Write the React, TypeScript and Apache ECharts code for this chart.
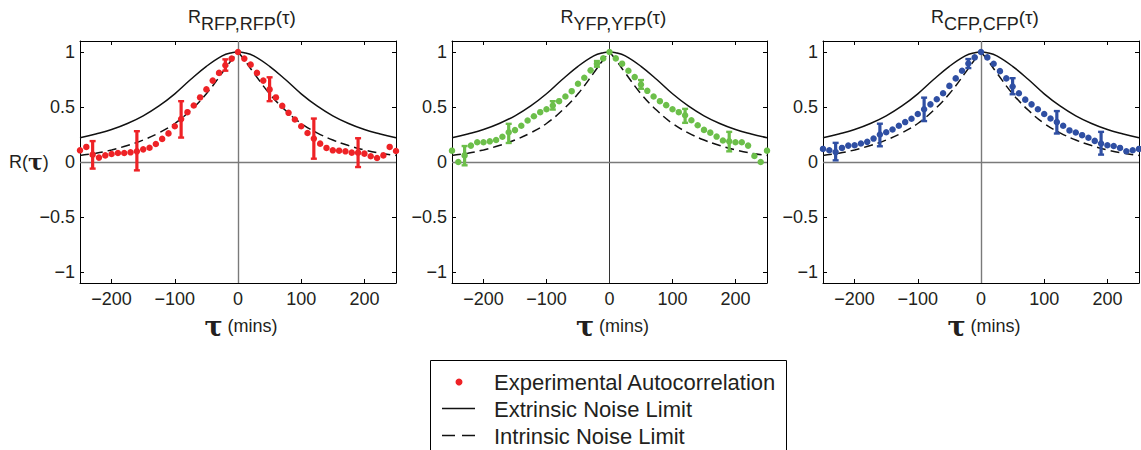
import React, { useEffect, useRef } from 'react';
import * as echarts from 'echarts';

// Lag times (mins)
const tau = [
  -250, -240, -230, -220, -210, -200, -190, -180, -170, -160, -150, -140, -130, -120, -110, -100, -90,
  -80, -70, -60, -50, -40, -30, -20, -10, 0, 10, 20, 30, 40, 50, 60, 70, 80, 90, 100, 110, 120, 130,
  140, 150, 160, 170, 180, 190, 200, 210, 220, 230, 240, 250,
];

const rfp = [
  0.106, 0.137, 0.067, 0.04, 0.06, 0.073, 0.082, 0.082, 0.088, 0.097, 0.115, 0.13, 0.164, 0.21, 0.26,
  0.325, 0.39, 0.453, 0.514, 0.587, 0.66, 0.74, 0.81, 0.88, 0.94, 1.0, 0.94, 0.885, 0.81, 0.74, 0.66,
  0.587, 0.51, 0.447, 0.386, 0.325, 0.264, 0.213, 0.167, 0.128, 0.106, 0.103, 0.097, 0.085, 0.085,
  0.076, 0.052, 0.036, 0.06, 0.137, 0.1,
];
const yfp = [
  0.103, 0.0, 0.06, 0.149, 0.18, 0.18, 0.188, 0.2, 0.23, 0.27, 0.29, 0.33, 0.377, 0.416, 0.453, 0.48,
  0.514, 0.553, 0.596, 0.644, 0.711, 0.766, 0.833, 0.894, 0.942, 1.0, 0.942, 0.894, 0.83, 0.772, 0.705,
  0.647, 0.596, 0.553, 0.517, 0.48, 0.453, 0.425, 0.38, 0.334, 0.292, 0.267, 0.231, 0.195, 0.188, 0.18,
  0.18, 0.149, 0.055, 0.0, 0.103,
];
const cfp = [
  0.119, 0.107, 0.09, 0.128, 0.149, 0.152, 0.168, 0.183, 0.213, 0.25, 0.271, 0.296, 0.33, 0.363, 0.393,
  0.436, 0.479, 0.524, 0.57, 0.625, 0.692, 0.76, 0.83, 0.896, 0.951, 1.0, 0.951, 0.893, 0.826, 0.76,
  0.686, 0.625, 0.567, 0.524, 0.479, 0.436, 0.396, 0.363, 0.33, 0.287, 0.268, 0.244, 0.22, 0.192, 0.168,
  0.152, 0.146, 0.128, 0.098, 0.107, 0.119,
];

// Error bars
const errTau = [-230, -160, -90, -20, 50, 120, 190];
const rfpLow = [-0.06, -0.076, 0.222, 0.83, 0.553, 0.03, -0.046];
const rfpHigh = [0.19, 0.28, 0.553, 0.933, 0.77, 0.395, 0.216];
const yfpLow = [-0.03, 0.173, 0.477, 0.866, 0.666, 0.356, 0.097];
const yfpHigh = [0.145, 0.347, 0.553, 0.918, 0.745, 0.483, 0.274];
const cfpLow = [0.015, 0.143, 0.372, 0.854, 0.616, 0.259, 0.067];
const cfpHigh = [0.174, 0.348, 0.585, 0.936, 0.762, 0.463, 0.274];

// Theoretical limits
const curveTau = [-250, -225, -200, -175, -150, -125, -100, -75, -50, -25, -10, 0, 10, 25, 50, 75, 100, 125, 150, 175, 200, 225, 250];
const extrinsic = [0.22, 0.255, 0.295, 0.35, 0.42, 0.51, 0.62, 0.75, 0.87, 0.965, 0.994, 1.0, 0.994, 0.965, 0.87, 0.75, 0.62, 0.51, 0.42, 0.35, 0.295, 0.255, 0.22];
const intrinsic = [0.06, 0.08, 0.11, 0.15, 0.2, 0.265, 0.35, 0.47, 0.62, 0.81, 0.93, 1.0, 0.93, 0.81, 0.62, 0.47, 0.35, 0.265, 0.2, 0.15, 0.11, 0.08, 0.06];

const xTicks = [-200, -100, 0, 100, 200];
const yTicks = [-1, -0.5, 0, 0.5, 1];

const panelNames = ['RFP,RFP', 'YFP,YFP', 'CFP,CFP'];
const panelColors = ['#ee2226', '#6cbf4a', '#2f4fa3'];
const zeroColors = ['#7a7a7a', '#333333', '#7a7a7a'];
const panelValues = [rfp, yfp, cfp];
const panelLow = [rfpLow, yfpLow, cfpLow];
const panelHigh = [rfpHigh, yfpHigh, cfpHigh];

const legendLabels = ['Experimental Autocorrelation', 'Extrinsic Noise Limit', 'Intrinsic Noise Limit'];

const FONT = '"Liberation Sans", Arial, Helvetica, sans-serif';
const TXT = '#231f20';

const gridLeft = [80, 452, 823];
const gridWidth = [316, 315, 316];
const gridTop = 41;
const gridHeight = 242;

const fmt = (v: number) => String(v).replace('-', '\u2212');

export default function App() {
  const ref = useRef<HTMLDivElement>(null);
  useEffect(() => {
    document.body.style.margin = '0';
    if (!ref.current) return;
    const chart = echarts.init(ref.current, null, { renderer: 'svg' });

    const grids: any[] = [];
    const xAxes: any[] = [];
    const yAxes: any[] = [];
    const series: any[] = [];
    const graphics: any[] = [];

    panelNames.forEach((name, i) => {
      grids.push({ left: gridLeft[i], top: gridTop, width: gridWidth[i], height: gridHeight, containLabel: false });
      const axLine = { show: true, onZero: false, lineStyle: { color: '#000', width: 1 } };
      const baseX = {
        gridIndex: i, type: 'value', min: -250, max: 250,
        axisLine: axLine, splitLine: { show: false },
        axisTick: { show: true, inside: true, length: 4, customValues: xTicks, lineStyle: { color: '#000' } },
      };
      xAxes.push({
        ...baseX, position: 'bottom',
        axisLabel: { show: true, customValues: xTicks, formatter: fmt, fontSize: 18, color: TXT, fontFamily: FONT, margin: 7 },
      });
      xAxes.push({ ...baseX, position: 'top', axisLabel: { show: false } });
      const baseY = {
        gridIndex: i, type: 'value', min: -1.1, max: 1.1,
        axisLine: axLine, splitLine: { show: false },
        axisTick: { show: true, inside: true, length: 4, customValues: yTicks, lineStyle: { color: '#000' } },
      };
      yAxes.push({
        ...baseY, position: 'left',
        axisLabel: { show: true, customValues: yTicks, formatter: fmt, fontSize: 18, color: TXT, fontFamily: FONT, margin: 5 },
      });
      yAxes.push({ ...baseY, position: 'right', axisLabel: { show: false } });

      const xi = i * 2;
      const yi = i * 2;
      const color = panelColors[i];

      series.push({
        type: 'line', xAxisIndex: xi, yAxisIndex: yi, name: legendLabels[1],
        data: curveTau.map((t, k) => [t, extrinsic[k]]),
        smooth: 0.4, showSymbol: false, symbol: 'none',
        lineStyle: { color: '#111', width: 1.5 },
        z: 3,
        markLine: {
          silent: true, symbol: ['none', 'none'], label: { show: false },
          lineStyle: { color: zeroColors[i], width: i === 1 ? 1 : 1.4, type: 'solid' },
          data: [{ xAxis: 0 }, { yAxis: 0, lineStyle: { color: '#7a7a7a', width: 1.4 } }],
          z: 1,
        },
      });
      const left = curveTau.map((t, k) => [t, intrinsic[k]]).filter((p) => p[0] <= 0);
      const right = curveTau.map((t, k) => [t, intrinsic[k]]).filter((p) => p[0] >= 0);
      [left, right].forEach((d) => {
        series.push({
          type: 'line', xAxisIndex: xi, yAxisIndex: yi, name: legendLabels[2],
          data: d, smooth: 0.4, showSymbol: false, symbol: 'none',
          lineStyle: { color: '#111', width: 1.5, type: [9, 5] },
          z: 3,
        });
      });
      series.push({
        type: 'custom', xAxisIndex: xi, yAxisIndex: yi, name: 'err',
        data: errTau.map((t, k) => [t, panelLow[i][k], panelHigh[i][k]]),
        clip: false,
        renderItem: (params: any, api: any) => {
          const lo = api.coord([api.value(0), api.value(1)]);
          const hi = api.coord([api.value(0), api.value(2)]);
          const x = lo[0];
          return {
            type: 'group',
            children: [
              { type: 'line', shape: { x1: x, y1: lo[1], x2: x, y2: hi[1] }, style: { stroke: color, lineWidth: 3.2 } },
              { type: 'line', shape: { x1: x - 3, y1: lo[1], x2: x + 3, y2: lo[1] }, style: { stroke: color, lineWidth: 2.4 } },
              { type: 'line', shape: { x1: x - 3, y1: hi[1], x2: x + 3, y2: hi[1] }, style: { stroke: color, lineWidth: 2.4 } },
            ],
          };
        },
        z: 4,
      });
      series.push({
        type: 'scatter', xAxisIndex: xi, yAxisIndex: yi, name: legendLabels[0],
        data: tau.map((t, k) => [t, panelValues[i][k]]),
        symbol: 'circle', symbolSize: 6.5, clip: false,
        itemStyle: { color, opacity: 1 },
        z: 5,
      });

      const cx = gridLeft[i] + gridWidth[i] / 2 + 4;
      graphics.push({
        type: 'text', x: cx, y: 8,
        style: {
          text: '{a|R}{b|' + name + '}{c|(τ)}',
          align: 'center', verticalAlign: 'top', fill: TXT, fontFamily: FONT,
          rich: {
            a: { fontSize: 18, fontFamily: FONT, fill: TXT, lineHeight: 25, height: 18, verticalAlign: 'top' },
            b: { fontSize: 18, fontFamily: FONT, fill: TXT, lineHeight: 25, height: 18, verticalAlign: 'bottom' },
            c: { fontSize: 19, fontFamily: FONT, fill: TXT, lineHeight: 25, height: 19, verticalAlign: 'top' },
          },
        },
      });
      graphics.push({
        type: 'text', x: cx - 1, y: 326,
        style: {
          text: '{t|τ}{m| (mins)}',
          align: 'center', verticalAlign: 'middle', fill: TXT,
          rich: {
            t: { fontSize: 27, fontFamily: '"DejaVu Serif", serif', fontWeight: 'bold', fill: TXT, verticalAlign: 'middle' },
            m: { fontSize: 18, fontFamily: FONT, fill: TXT, verticalAlign: 'middle' },
          },
        },
      });
    });

    // y-axis name
    graphics.push({
      type: 'text', x: 9, y: 162,
      style: {
        text: '{a|R(}{t|τ}{a|)}',
        align: 'left', verticalAlign: 'middle', fill: TXT,
        rich: {
          a: { fontSize: 18, fontFamily: FONT, fill: TXT, verticalAlign: 'middle' },
          t: { fontSize: 22, fontFamily: '"DejaVu Serif", serif', fontWeight: 'bold', fill: TXT, verticalAlign: 'middle' },
        },
      },
    });

    // legend box
    graphics.push({
      type: 'rect', shape: { x: 430.5, y: 360.5, width: 356, height: 120 },
      style: { fill: '#fff', stroke: '#000', lineWidth: 1 }, z: 10,
    });
    graphics.push({ type: 'circle', shape: { cx: 459, cy: 382, r: 3.5 }, style: { fill: panelColors[0] }, z: 11 });
    graphics.push({ type: 'line', shape: { x1: 442, y1: 408.5, x2: 475, y2: 408.5 }, style: { stroke: '#111', lineWidth: 1.5 }, z: 11 });
    graphics.push({ type: 'line', shape: { x1: 442, y1: 435.5, x2: 475, y2: 435.5 }, style: { stroke: '#111', lineWidth: 1.5, lineDash: [13, 7] }, z: 11 });
    [382, 409, 436].forEach((y, k) => {
      graphics.push({
        type: 'text', x: 494, y, z: 11,
        style: { text: legendLabels[k], fontSize: 22, fontFamily: FONT, fill: TXT, align: 'left', verticalAlign: 'middle' },
      });
    });

    chart.setOption({
      animation: false,
      backgroundColor: '#fff',
      grid: grids,
      xAxis: xAxes,
      yAxis: yAxes,
      series,
      graphic: graphics,
    });
    return () => chart.dispose();
  }, []);
  return <div ref={ref} style={{ width: 1141, height: 450 }} />;
}
